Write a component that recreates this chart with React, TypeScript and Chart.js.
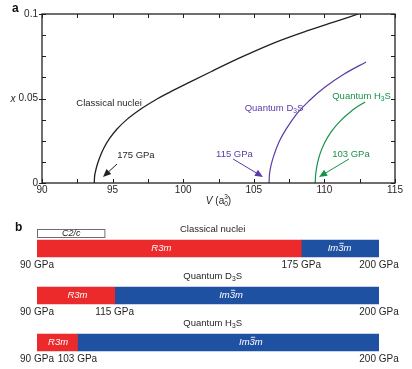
import React, { useEffect, useRef } from 'react';
import { Chart, registerables } from 'chart.js';

Chart.register(...registerables);

const FONT = '"Liberation Sans", Arial, Helvetica, sans-serif';
const INK = '#231f20';
const PURPLE = '#5b3ba6';
const GREEN = '#18924a';
const RED = '#ec2a2c';
const BLUE = '#1f51a2';

// ---------- Panel a data ----------
const volumeTicks = [90, 95, 100, 105, 110, 115];
const fractionTicks = [0, 0.05, 0.1];
const fractionTickLabels = ['0', '0.05', '0.1'];

const classicalV = [93.7, 93.72, 93.78, 93.9, 94.1, 94.4, 94.8, 95.3, 96.0, 97.0, 98.0, 99.0, 100.5, 102.0, 104.0, 106.4, 108.7, 110.6, 112.4];
const classicalX = [0, 0.0035, 0.0065, 0.0105, 0.0154, 0.021, 0.0265, 0.0318, 0.0375, 0.0438, 0.049, 0.0535, 0.0598, 0.066, 0.074, 0.0828, 0.0898, 0.095, 0.1];

const d3sV = [106.08, 106.1, 106.15, 106.25, 106.45, 106.8, 107.3, 108.0, 108.9, 110.0, 111.4, 112.95];
const d3sX = [0, 0.004, 0.0075, 0.0115, 0.017, 0.0245, 0.032, 0.0405, 0.0485, 0.0565, 0.0645, 0.0716];

const h3sV = [109.35, 109.37, 109.42, 109.52, 109.7, 110.0, 110.5, 111.1, 111.9, 112.88];
const h3sX = [0, 0.004, 0.0075, 0.012, 0.0175, 0.0235, 0.0305, 0.0365, 0.0425, 0.048];

const onsetLabels = ['175 GPa', '115 GPa', '103 GPa'];
const onsetLabelAt = [[96.65, 0.0166], [103.63, 0.0172], [111.88, 0.0172]];
const arrowFrom = [[95.31, 0.0112], [103.53, 0.0142], [111.74, 0.0142]];
const arrowTo = [[94.32, 0.0036], [105.65, 0.0036], [109.62, 0.0036]];
const curveNameAt = [[94.75, 0.0473], [106.43, 0.0444], [112.63, 0.0515]];
const curveColors = [INK, PURPLE, GREEN];

// ---------- Panel b data ----------
const rowNames = ['Classical nuclei', 'Quantum D3S', 'Quantum H3S'];
const pressureMin = 90;
const pressureMax = 200;
const transitionGPa = [175, 115, 103];
const r3mLabelGPa = [130, 103, 96.8];
const im3mLabelGPa = [187.3, 152.4, 158.8];
const c2cGPa = [90, 112];
const rowTitleGPa = 146.5;

type Part = { t: string; scale?: number; dy?: number; italic?: boolean; bold?: boolean; overbar?: boolean; noAdvance?: boolean };

function nameParts(name: string): Part[] {
  const m = name.match(/^(.*[DH])3(S)$/);
  if (!m) return [{ t: name }];
  return [{ t: m[1] }, { t: '3', scale: 0.7, dy: 0.32 }, { t: m[2] }];
}

const im3mParts: Part[] = [
  { t: 'Im', italic: true },
  { t: '3', italic: true, overbar: true },
  { t: 'm', italic: true },
];

function drawRich(
  ctx: CanvasRenderingContext2D,
  parts: Part[],
  x: number,
  y: number,
  size: number,
  color: string,
  align: 'left' | 'center' | 'right' = 'center'
) {
  ctx.save();
  ctx.fillStyle = color;
  ctx.strokeStyle = color;
  ctx.textBaseline = 'middle';
  ctx.textAlign = 'left';
  const font = (p: Part) =>
    `${p.italic ? 'italic ' : ''}${p.bold ? 'bold ' : ''}${(size * (p.scale ?? 1)).toFixed(2)}px ${FONT}`;
  const widths = parts.map((p) => {
    ctx.font = font(p);
    return ctx.measureText(p.t).width;
  });
  const total = parts.reduce((s, p, i) => s + (p.noAdvance ? 0 : widths[i]), 0);
  let cx = align === 'left' ? x : align === 'right' ? x - total : x - total / 2;
  parts.forEach((p, i) => {
    ctx.font = font(p);
    const py = y + (p.dy ?? 0) * size;
    ctx.fillText(p.t, cx, py);
    if (p.overbar) {
      ctx.lineWidth = 0.9;
      const oy = py - size * (p.scale ?? 1) * 0.55;
      ctx.beginPath();
      ctx.moveTo(cx + 1.2, oy);
      ctx.lineTo(cx + widths[i] + 0.3, oy);
      ctx.stroke();
    }
    if (!p.noAdvance) cx += widths[i];
  });
  ctx.restore();
}

function drawArrow(ctx: CanvasRenderingContext2D, x1: number, y1: number, x2: number, y2: number, color: string) {
  const ang = Math.atan2(y2 - y1, x2 - x1);
  const len = 8;
  const hw = 3.5;
  ctx.save();
  ctx.strokeStyle = color;
  ctx.fillStyle = color;
  ctx.lineWidth = 1;
  ctx.beginPath();
  ctx.moveTo(x1, y1);
  ctx.lineTo(x2 - Math.cos(ang) * len * 0.8, y2 - Math.sin(ang) * len * 0.8);
  ctx.stroke();
  ctx.beginPath();
  ctx.moveTo(x2, y2);
  ctx.lineTo(x2 - Math.cos(ang) * len + Math.sin(ang) * hw, y2 - Math.sin(ang) * len - Math.cos(ang) * hw);
  ctx.lineTo(x2 - Math.cos(ang) * len - Math.sin(ang) * hw, y2 - Math.sin(ang) * len + Math.cos(ang) * hw);
  ctx.closePath();
  ctx.fill();
  ctx.restore();
}

const toPoints = (xs: number[], ys: number[]) => xs.map((v, i) => ({ x: v, y: ys[i] }));

const panelAPlugin = {
  id: 'panelA',
  afterDatasetsDraw(chart: any) {
    const ctx: CanvasRenderingContext2D = chart.ctx;
    const xs = chart.scales.x;
    const ys = chart.scales.y;
    const { left, right, top, bottom } = chart.chartArea;
    ctx.save();
    ctx.strokeStyle = INK;
    ctx.lineWidth = 1.3;
    ctx.strokeRect(left, top, right - left, bottom - top);
    ctx.lineWidth = 1;
    ctx.beginPath();
    for (let v = volumeTicks[0]; v <= volumeTicks[volumeTicks.length - 1] + 1e-9; v += 2.5) {
      const px = Math.round(xs.getPixelForValue(v)) + 0.5;
      ctx.moveTo(px, bottom);
      ctx.lineTo(px, bottom - 4);
      ctx.moveTo(px, top);
      ctx.lineTo(px, top + 4);
    }
    for (let k = 0; k <= 8; k++) {
      const v = (fractionTicks[fractionTicks.length - 1] * k) / 8;
      const py = Math.round(ys.getPixelForValue(v)) + 0.5;
      const major = k % 4 === 0;
      ctx.moveTo(left - (major ? 3 : 0), py);
      ctx.lineTo(left + 4, py);
      ctx.moveTo(right, py);
      ctx.lineTo(right - 4, py);
    }
    ctx.stroke();
    ctx.restore();

    // annotations
    for (let i = 0; i < 3; i++) {
      const c = curveColors[i];
      drawRich(ctx, nameParts(rowNames[i]), xs.getPixelForValue(curveNameAt[i][0]), ys.getPixelForValue(curveNameAt[i][1]), 9.5, c);
      drawRich(ctx, [{ t: onsetLabels[i] }], xs.getPixelForValue(onsetLabelAt[i][0]), ys.getPixelForValue(onsetLabelAt[i][1]), 9.5, c);
      drawArrow(
        ctx,
        xs.getPixelForValue(arrowFrom[i][0]),
        ys.getPixelForValue(arrowFrom[i][1]),
        xs.getPixelForValue(arrowTo[i][0]),
        ys.getPixelForValue(arrowTo[i][1]),
        c
      );
    }
    // panel letter and axis titles
    drawRich(ctx, [{ t: 'a', bold: true }], 12, 9, 12, '#111', 'left');
    drawRich(ctx, [{ t: 'x', italic: true }], 13, (top + bottom) / 2 + 1, 10, INK, 'center');
    drawRich(
      ctx,
      [
        { t: 'V', italic: true },
        { t: ' (a' },
        { t: '0', scale: 0.65, dy: 0.3, noAdvance: true },
        { t: '3', scale: 0.65, dy: -0.35 },
        { t: ')' },
      ],
      (left + right) / 2,
      bottom + 18,
      10,
      INK,
      'center'
    );
  },
};

const BAR = 17;

const panelBPlugin = {
  id: 'panelB',
  afterDatasetsDraw(chart: any) {
    const ctx: CanvasRenderingContext2D = chart.ctx;
    const xs = chart.scales.x;
    const ys = chart.scales.y;
    rowNames.forEach((name, i) => {
      const yc = ys.getPixelForValue(i);
      const top = yc - BAR / 2;
      const bottom = yc + BAR / 2;
      drawRich(ctx, nameParts(name), xs.getPixelForValue(rowTitleGPa), top - 10.5, 9.5, INK);
      drawRich(ctx, [{ t: 'R3m', italic: true }], xs.getPixelForValue(r3mLabelGPa[i]), yc, 9.5, '#fff');
      drawRich(ctx, im3mParts, xs.getPixelForValue(im3mLabelGPa[i]), yc, 9.5, '#fff');
      [pressureMin, transitionGPa[i], pressureMax].forEach((p) => {
        drawRich(ctx, [{ t: `${p} GPa` }], xs.getPixelForValue(p), bottom + 8, 10, INK);
      });
      if (i === 0) {
        const x1 = xs.getPixelForValue(c2cGPa[0]);
        const x2 = xs.getPixelForValue(c2cGPa[1]);
        ctx.save();
        ctx.fillStyle = '#fff';
        ctx.strokeStyle = '#6d6e71';
        ctx.lineWidth = 1;
        ctx.fillRect(x1, top - 11, x2 - x1, 8);
        ctx.strokeRect(x1 + 0.5, top - 10.5, x2 - x1 - 1, 8);
        ctx.restore();
        drawRich(ctx, [{ t: 'C2/c', italic: true }], (x1 + x2) / 2, top - 6.5, 9, INK);
      }
    });
    drawRich(ctx, [{ t: 'b', bold: true }], 15, 18, 12, '#111', 'left');
  },
};

export default function App() {
  const refA = useRef<HTMLCanvasElement>(null);
  const refB = useRef<HTMLCanvasElement>(null);

  useEffect(() => {
    const tickFont = { family: FONT, size: 10 };
    const chartA = new Chart(refA.current as HTMLCanvasElement, {
      type: 'line',
      data: {
        datasets: [
          { data: toPoints(classicalV, classicalX), borderColor: INK, borderWidth: 1.3 },
          { data: toPoints(d3sV, d3sX), borderColor: PURPLE, borderWidth: 1.2 },
          { data: toPoints(h3sV, h3sX), borderColor: GREEN, borderWidth: 1.2 },
        ].map((d) => ({ ...d, pointRadius: 0, fill: false, cubicInterpolationMode: 'monotone' as const })),
      },
      options: {
        animation: false,
        responsive: false,
        events: [],
        layout: { padding: { left: 0, right: 17, top: 14, bottom: 0 } },
        plugins: { legend: { display: false }, tooltip: { enabled: false } },
        scales: {
          x: {
            type: 'linear',
            min: volumeTicks[0],
            max: volumeTicks[volumeTicks.length - 1],
            afterBuildTicks: (s: any) => {
              s.ticks = volumeTicks.map((v) => ({ value: v }));
            },
            ticks: { font: tickFont, color: INK, padding: 1, maxRotation: 0, autoSkip: false, callback: (v: any) => String(v) },
            grid: { display: false, drawTicks: false },
            border: { display: false },
            afterFit: (s: any) => {
              s.height = 27;
            },
          },
          y: {
            type: 'linear',
            min: fractionTicks[0],
            max: fractionTicks[fractionTicks.length - 1],
            afterBuildTicks: (s: any) => {
              s.ticks = fractionTicks.map((v) => ({ value: v }));
            },
            ticks: {
              font: tickFont,
              color: INK,
              padding: 4,
              autoSkip: false,
              callback: (v: any) => fractionTickLabels[fractionTicks.findIndex((t) => Math.abs(t - v) < 1e-9)] ?? '',
            },
            grid: { display: false, drawTicks: false },
            border: { display: false },
            afterFit: (s: any) => {
              s.width = 42;
            },
          },
        },
      },
      plugins: [panelAPlugin],
    });

    const chartB = new Chart(refB.current as HTMLCanvasElement, {
      type: 'bar',
      data: {
        labels: rowNames,
        datasets: [
          {
            label: 'R3m',
            data: transitionGPa.map((t) => [pressureMin, t]),
            backgroundColor: RED,
            barThickness: BAR,
            grouped: false,
            borderWidth: 0,
          },
          {
            label: 'Im-3m',
            data: transitionGPa.map((t) => [t, pressureMax]),
            backgroundColor: BLUE,
            barThickness: BAR,
            grouped: false,
            borderWidth: 0,
          },
        ] as any,
      },
      options: {
        indexAxis: 'y',
        animation: false,
        responsive: false,
        events: [],
        layout: { padding: { left: 37, right: 33, top: 15, bottom: 3 } },
        plugins: { legend: { display: false }, tooltip: { enabled: false } },
        scales: {
          x: { type: 'linear', min: pressureMin, max: pressureMax, display: false },
          y: { type: 'category', display: false },
        },
      },
      plugins: [panelBPlugin],
    });

    return () => {
      chartA.destroy();
      chartB.destroy();
    };
  }, []);

  return (
    <div style={{ position: 'absolute', left: 0, top: 0, width: 412, height: 369, background: '#fff' }}>
      <canvas ref={refA} width={412} height={210} style={{ position: 'absolute', left: 0, top: 0, width: 412, height: 210 }} />
      <canvas ref={refB} width={412} height={159} style={{ position: 'absolute', left: 0, top: 210, width: 412, height: 159 }} />
    </div>
  );
}
